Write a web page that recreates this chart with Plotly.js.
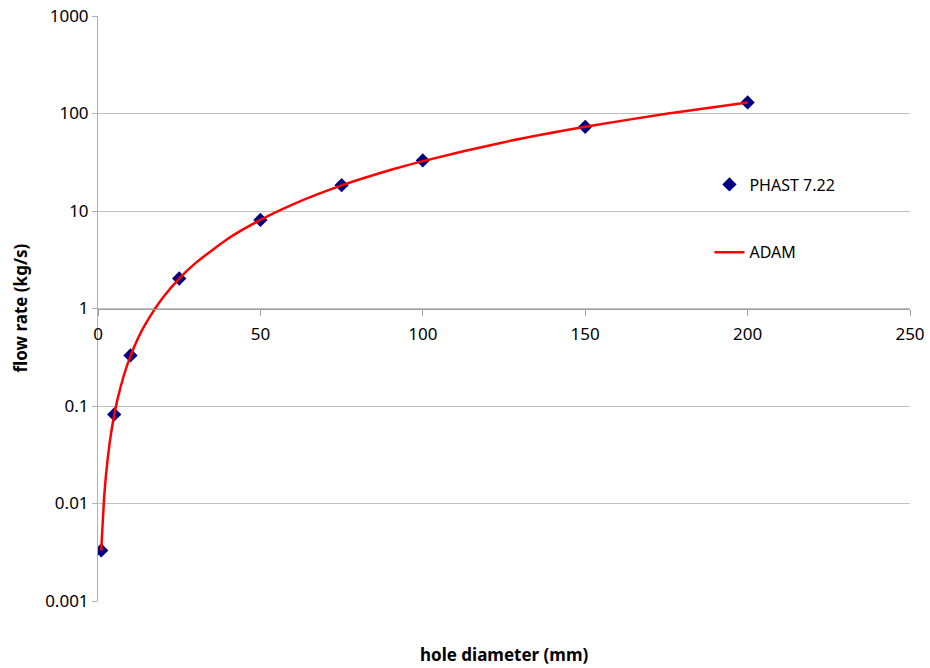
<!DOCTYPE html>
<html>
<head>
<meta charset="utf-8">
<script src="https://cdn.plot.ly/plotly-3.0.1.min.js"></script>
<style>html,body{margin:0;padding:0;background:#fff;}#chart{width:930px;height:668px;}</style>
</head>
<body>
<div id="chart"></div>
<script>
// PHAST 7.22 points
const phastDiameter = [1, 5, 10, 25, 50, 75, 100, 150, 200];
const phastFlow = [0.0033, 0.082, 0.33, 2.03, 8.1, 18.4, 33, 73, 130];
// ADAM curve
const adamDiameter = [1, 2, 3, 4, 5, 6, 8, 10, 12.5, 15, 20, 25, 30, 40, 50, 60, 75, 90, 100, 125, 150, 175, 200];
const adamFlow = [0.0033, 0.013, 0.029, 0.052, 0.081, 0.117, 0.208, 0.325, 0.51, 0.73, 1.3, 2.03, 2.92, 5.2, 8.1, 11.7, 18.3, 26.3, 32.5, 50.8, 73, 99.5, 130];
// Axis labels
const yTickVals = [0.001, 0.01, 0.1, 1, 10, 100, 1000];
const yTickText = ["0.001", "0.01", "0.1", "1", "10", "100", "1000"];
const xTickVals = [0, 50, 100, 150, 200, 250];
const seriesNames = ["PHAST 7.22", "ADAM"];

const font = "Noto Sans, Liberation Sans, Arial, sans-serif";

const traces = [
  {
    x: phastDiameter, y: phastFlow, name: seriesNames[0], mode: "markers", type: "scatter",
    marker: {symbol: "diamond", size: 11, color: "#000080"},
    legendgroup: "a"
  },
  {
    x: adamDiameter, y: adamFlow, name: seriesNames[1], mode: "lines", type: "scatter",
    line: {color: "#ff0000", width: 2.5, shape: "spline", smoothing: 0.6},
    legendgroup: "b"
  }
];

const layout = {
  width: 930, height: 668,
  margin: {l: 98, r: 20, t: 16, b: 67},
  paper_bgcolor: "#ffffff", plot_bgcolor: "#ffffff",
  font: {family: font, size: 16, color: "#000"},
  showlegend: true,
  legend: {x: 0.753, y: 0.741, xanchor: "left", yanchor: "top", tracegroupgap: 44,
           font: {family: font, size: 16, color: "#000"}, bgcolor: "rgba(0,0,0,0)", itemwidth: 30},
  xaxis: {
    range: [0, 250], tickvals: xTickVals, ticktext: xTickVals.map(String),
    anchor: "free", position: 0.5,
    showline: true, linecolor: "#a0a0a0", linewidth: 1,
    ticks: "outside", ticklen: 6, tickcolor: "#a0a0a0", ticklabelstandoff: 4,
    showgrid: false, zeroline: false,
    tickfont: {family: font, size: 17, color: "#000"}
  },
  yaxis: {
    type: "log", range: [-3, 3], tickvals: yTickVals, ticktext: yTickText,
    showline: true, linecolor: "#b0b0b0", linewidth: 1,
    ticks: "outside", ticklen: 5, tickcolor: "#b0b0b0",
    showgrid: true, gridcolor: "#c0c0c0", gridwidth: 1, zeroline: false,
    tickfont: {family: font, size: 17, color: "#000"}
  },
  annotations: [
    {text: "<b>hole diameter (mm)</b>", xref: "paper", yref: "paper", x: 0.5, y: -0.092,
     xanchor: "center", yanchor: "middle", showarrow: false, font: {family: font, size: 17, color: "#000"}},
    {text: "<b>flow rate (kg/s)</b>", xref: "paper", yref: "paper", x: -0.096, y: 0.5,
     xanchor: "center", yanchor: "middle", textangle: -90, showarrow: false, font: {family: font, size: 17, color: "#000"}}
  ]
};

Plotly.newPlot("chart", traces, layout, {displayModeBar: false, staticPlot: true});
</script>
</body>
</html>
